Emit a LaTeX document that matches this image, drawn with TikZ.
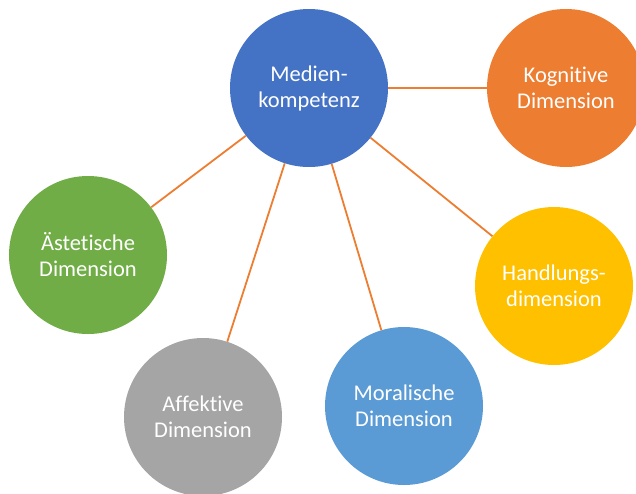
\documentclass[tikz,border=0pt]{standalone}
\usepackage{fontspec}
\setmainfont[Ligatures={NoCommon}]{Carlito}
\definecolor{cBlue}{HTML}{4472C4}
\definecolor{cOrange}{HTML}{ED7D31}
\definecolor{cGold}{HTML}{FFC000}
\definecolor{cLightBlue}{HTML}{5B9BD5}
\definecolor{cGray}{HTML}{A5A5A5}
\definecolor{cGreen}{HTML}{70AD47}
\begin{document}
\begin{tikzpicture}[x=1pt,y=-1pt,
  bubble/.style={circle,minimum size=158pt,inner sep=0pt,draw=none,text=white,
    align=center,font=\fontsize{22.5}{26}\selectfont},
  link/.style={draw=cOrange,line width=1.8pt}]
\useasboundingbox (0,0) rectangle (636,493);
\node[bubble,fill=cBlue] (m) at (309,88) {Medien-\\kompetenz};
\node[bubble,fill=cOrange] (k) at (566,88) {Kognitive\\Dimension};
\node[bubble,fill=cGold] (h) at (554,286) {Handlungs-\\dimension};
\node[bubble,fill=cLightBlue] (mo) at (404,406) {Moralische\\Dimension};
\node[bubble,fill=cGray] (a) at (203,417) {Affektive\\Dimension};
\node[bubble,fill=cGreen] (e) at (88,255) {Ästetische\\Dimension};
\draw[link] (m) -- (k);
\draw[link] (m) -- (h);
\draw[link] (m) -- (mo);
\draw[link] (m) -- (a);
\draw[link] (m) -- (e);
\end{tikzpicture}
\end{document}
